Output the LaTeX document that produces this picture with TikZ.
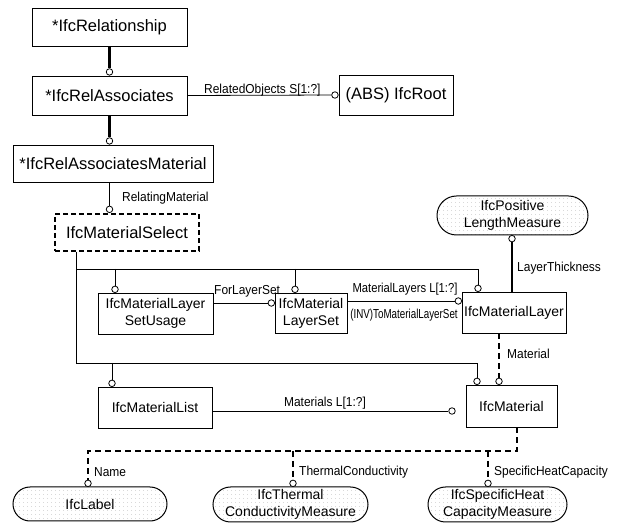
\documentclass[tikz,border=0pt]{standalone}
\usepackage{fontspec}
\usepackage{graphicx}
\setmainfont{Liberation Sans}
\newfontfamily\lblfont{Liberation Sans}[FakeStretch=0.92]
\usetikzlibrary{shapes.misc, patterns.meta}
\tikzset{%
    entity/.style={draw, line width=0.8pt, inner sep=0pt, align=center,
    	font=\fontsize{14}{17}\selectfont},
    bigentity/.style={entity, font=\fontsize{16.5}{19}\selectfont},
    selecttype/.style={bigentity, line width=2pt, dash pattern=on 5pt off 3pt},
    definedtype/.style={entity, rounded rectangle, line width=1pt,
    	pattern={Dots[distance=4pt, radius=0.4pt]}, pattern color=black!35},
    endring/.style={circle, draw, fill=white, inner sep=0pt, minimum size=6.5pt,
    	line width=0.8pt},
    attr/.style={inner sep=0pt, font=\lblfont\fontsize{13}{15}\selectfont},
    link/.style={line width=0.8pt},
    subtype/.style={line width=3.5pt},
    optional/.style={line width=2.2pt, dash pattern=on 6pt off 4pt}
}
\begin{document}
\begin{tikzpicture}[x=1pt, y=-1pt]
  \useasboundingbox (0,0) rectangle (619,526);

  \node (rel) [bigentity, minimum width=155pt, minimum height=38pt] at (109.5, 27) {*IfcRelationship};
  \node (relassoc) [bigentity, minimum width=155pt, minimum height=39pt] at (109.5, 95.5) {*IfcRelAssociates};
  \node (relassocmat) [bigentity, minimum width=200pt, minimum height=37pt] at (113, 163.5) {*IfcRelAssociatesMaterial};
  \node (root) [bigentity, minimum width=114pt, minimum height=40pt] at (396, 95) {(ABS) IfcRoot};
  \node (select) [selecttype, minimum width=144pt, minimum height=37pt] at (127, 232.5) {IfcMaterialSelect};
  \node (usage) [entity, minimum width=115pt, minimum height=41pt] at (155.5, 313.5) {IfcMaterialLayer\\SetUsage};
  \node (layerset) [entity, minimum width=72pt, minimum height=40pt] at (311, 313) {IfcMaterial\\LayerSet};
  \node (layer) [entity, minimum width=104pt, minimum height=41pt] at (514, 312.5) {IfcMaterialLayer};
  \node (poslen) [definedtype, minimum width=151pt, minimum height=39pt] at (512.5, 215.5) {IfcPositive\\LengthMeasure};
  \node (material) [entity, minimum width=91pt, minimum height=42pt] at (511.5, 406) {IfcMaterial};
  \node (matlist) [entity, minimum width=114pt, minimum height=41pt] at (155, 407.5) {IfcMaterialList};
  \node (label) [definedtype, minimum width=154pt, minimum height=34pt] at (90, 504) {IfcLabel};
  \node (thermal) [definedtype, minimum width=155pt, minimum height=35pt] at (290.5, 504.5) {IfcThermal\\ConductivityMeasure};
  \node (spec) [definedtype, minimum width=139pt, minimum height=35pt] at (497.5, 504.5) {IfcSpecificHeat\\CapacityMeasure};

  % rings at the relation ends
  \node (o1) [endring, anchor=south] at (relassoc.north) {};
  \node (o2) [endring, anchor=south] at (relassoc.south |- relassocmat.north) {};
  \node (o3) [endring, anchor=south] at (relassoc.south |- select.north) {};
  \node (o4) [endring, anchor=east] at (root.west) {};
  \node (o5) [endring, anchor=south] at (478, 292) {};
  \node (o6) [endring, anchor=south] at (115, 293) {};
  \node (o7) [endring, anchor=south] at (295, 293) {};
  \node (o8) [endring, anchor=south] at (477, 385) {};
  \node (o9) [endring, anchor=south] at (112, 387) {};
  \node (o10) [endring, anchor=east] at (275, 303) {};
  \node (o11) [endring, anchor=east] at (462, 301) {};
  \node (o12) [endring, anchor=north] at (512, 235) {};
  \node (o13) [endring, anchor=south] at (499, 385) {};
  \node (o14) [endring] at (452, 411) {};
  \node (o15) [endring, anchor=south] at (88, 487) {};
  \node (o16) [endring, anchor=south] at (293, 487) {};
  \node (o17) [endring, anchor=south] at (488, 487) {};

  \coordinate (busA) at (76, 269);
  \coordinate (busB) at (76, 363);
  \coordinate (busC) at (517, 451);

  \draw [subtype] (rel.south -| o1) -- (o1);
  \draw [subtype] (relassoc.south -| o2) -- (o2);
  \draw [link] (relassocmat.south -| o3) -- (o3);
  \draw [link] (relassoc.east) -- (o4);

  \draw [link] (select.south -| busA) -- (busB) -| (o8);
  \draw [link] (busA) -| (o5);
  \draw [link] (busA -| o6) -- (o6);
  \draw [link] (busA -| o7) -- (o7);
  \draw [link] (busB -| o9) -- (o9);

  \draw [link] (usage.east |- o10) -- (o10);
  \draw [link] (layerset.east |- o11) -- (o11);
  \draw [line width=1.2pt] (layer.north -| o12) -- (o12);
  \draw [optional] (layer.south -| o13) -- (o13);
  \draw [link] (matlist.east |- o14) -- (o14);

  \draw [optional] (material.south -| busC) -- (busC) -| (o15);
  \draw [optional] (busC -| o16) -- (o16);
  \draw [optional] (busC -| o17) -- (o17);

  % attribute names
  \node (aRelObj) [attr, anchor=west] at (204, 90) {RelatedObjects S[1:?]};
  \node (aRelMat) [attr, anchor=west] at (122, 198) {RelatingMaterial};
  \node (aForSet) [attr, anchor=west] at (214, 291) {ForLayerSet};
  \node (aLayers) [attr] at (405, 289) {\scalebox{0.94}[1]{MaterialLayers L[1:?]}};
  \node (aInv) [attr] at (404, 315) {\scalebox{0.82}[1]{(INV)ToMaterialLayerSet}};
  \node (aThick) [attr, anchor=west] at (517, 268) {LayerThickness};
  \node (aMat) [attr, anchor=west] at (507, 354) {Material};
  \node (aMats) [attr] at (325, 403) {Materials L[1:?]};
  \node (aName) [attr, anchor=west] at (94, 472) {Name};
  \node (aTherm) [attr, anchor=west] at (299, 472) {ThermalConductivity};
  \node (aHeat) [attr, anchor=west] at (494, 472) {SpecificHeatCapacity};
\end{tikzpicture}
\end{document}
